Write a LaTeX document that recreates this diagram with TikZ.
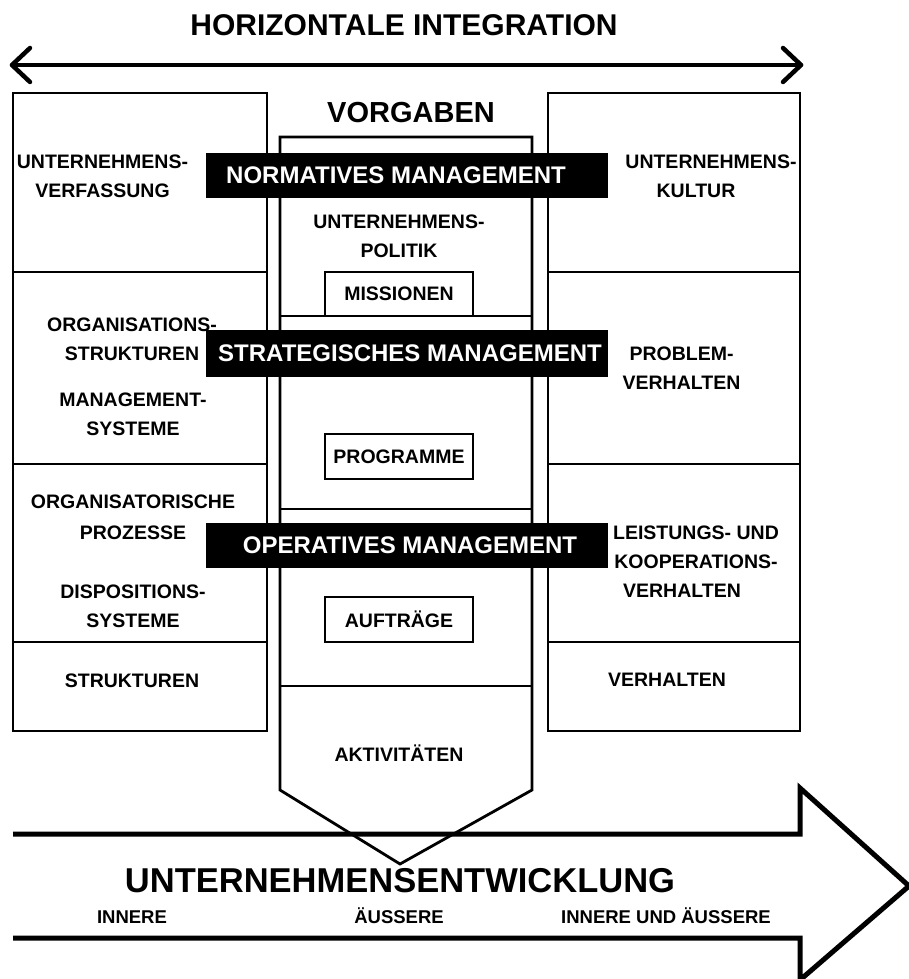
\documentclass[tikz,border=0pt]{standalone}
\usepackage{fontspec}
\setmainfont{Liberation Sans}
\usetikzlibrary{calc}
\begin{document}
\begin{tikzpicture}[x=1pt,y=-1pt,
  frame/.style={draw=black, line width=2.8pt, line join=miter},
  heavy/.style={draw=black, line width=5pt, line join=miter},
  lbl/.style={font=\fontsize{19.5}{29}\selectfont\bfseries, align=center, inner sep=0pt},
  small/.style={font=\fontsize{18.5}{22}\selectfont\bfseries, inner sep=0pt},
  headline/.style={font=\fontsize{30}{34}\selectfont\bfseries, inner sep=0pt},
  bigline/.style={font=\fontsize{34.5}{38}\selectfont\bfseries, inner sep=0pt},
  levelbar/.style={fill=black, draw=none, minimum width=402pt, minimum height=45pt, inner sep=0pt},
  bartext/.style={text=white, font=\fontsize{24}{28}\selectfont\bfseries, inner sep=0pt},
  tagbox/.style={frame, fill=white, minimum width=148pt, minimum height=44pt, inner sep=0pt,
                 font=\fontsize{19.5}{24}\selectfont\bfseries}]
\useasboundingbox (0,0) rectangle (909,979);

% title and horizontal double arrow
\node[headline] (title) at (404,25) {HORIZONTALE INTEGRATION};
\coordinate (hl) at (12,65);
\coordinate (hr) at (801,65);
\draw[line width=4.5pt, line cap=round, line join=round] (hl) -- (hr);
\draw[line width=4.5pt, line cap=round, line join=round]
  ($(hl)+(18,-17)$) -- (hl) -- ($(hl)+(18,17)$);
\draw[line width=4.5pt, line cap=round, line join=round]
  ($(hr)+(-18,-17)$) -- (hr) -- ($(hr)+(-18,17)$);

% left column: structures
\draw[frame] (13,93) rectangle (267,731);
\draw[frame] (13,272) -- (267,272);
\draw[frame] (13,464) -- (267,464);
\draw[frame] (13,642) -- (267,642);

% right column: behaviour
\draw[frame] (548,93) rectangle (800,731);
\draw[frame] (548,272) -- (800,272);
\draw[frame] (548,464) -- (800,464);
\draw[frame] (548,642) -- (800,642);

% centre column: pentagon pointing down
\node[headline, font=\fontsize{29}{32}\selectfont\bfseries] (vorgaben) at (411,113) {VORGABEN};
\draw[frame] (280,137) -- (532,137) -- (532,790) -- (400,864) -- (280,790) -- cycle;
\draw[frame] (280,316) -- (532,316);
\draw[frame] (280,509) -- (532,509);
\draw[frame] (280,686) -- (532,686);

% development arrow
\draw[heavy] (13,834) -- (800,834) -- (800,788) -- (909,886) -- (800,980) -- (800,938) -- (13,938);

% left column labels
\node[lbl] (verf) at (102.5,176.5) {UNTERNEHMENS-\\VERFASSUNG};
\node[lbl] (orgstr) at (132,339.5) {ORGANISATIONS-\\STRUKTUREN};
\node[lbl] (mgmtsys) at (133,414) {MANAGEMENT-\\SYSTEME};
\node[lbl, font=\fontsize{19.5}{31}\selectfont\bfseries] (orgproz) at (133,517.5) {ORGANISATORISCHE\\PROZESSE};
\node[lbl] (dispsys) at (133,606) {DISPOSITIONS-\\SYSTEME};
\node[lbl] (strukt) at (132,681) {STRUKTUREN};

% centre column labels
\node[lbl] (politik) at (399,236) {UNTERNEHMENS-\\POLITIK};
\node[tagbox] (missionen) at (399,294) {MISSIONEN};
\node[tagbox, minimum height=45pt] (programme) at (399,456.5) {PROGRAMME};
\node[tagbox, minimum height=45pt] (auftraege) at (399,619.5) {AUFTRÄGE};
\node[lbl, anchor=base] (aktiv) at (399,761) {AKTIVITÄTEN};

% right column labels
\node[lbl] (kultur1) at (711,162) {UNTERNEHMENS-};
\node[lbl] (kultur2) at (696,191) {KULTUR};
\node[lbl] (problem) at (681.5,368) {PROBLEM-\\VERHALTEN};
\node[lbl] (leist) at (696,547) {LEISTUNGS- UND\\KOOPERATIONS-};
\node[lbl] (leist3) at (682,591) {VERHALTEN};
\node[lbl] (verhalten) at (667,680) {VERHALTEN};

% management levels
\node[levelbar] (nbar) at (407,175.5) {};
\node[bartext] (ntext) at (396,175.5) {NORMATIVES MANAGEMENT};
\node[levelbar, minimum height=47pt] (sbar) at (407,353.5) {};
\node[bartext] (stext) at (410,353.5) {STRATEGISCHES MANAGEMENT};
\node[levelbar] (obar) at (407,545.5) {};
\node[bartext] (otext) at (410,545.5) {OPERATIVES MANAGEMENT};

% development labels
\node[bigline] (entw) at (400,881) {UNTERNEHMENSENTWICKLUNG};
\node[small, anchor=base] (innere) at (132,923.5) {INNERE};
\node[small, anchor=base] (aeussere) at (399,923.5) {ÄUSSERE};
\node[small, anchor=base] (beide) at (666,923.5) {INNERE UND ÄUSSERE};
\end{tikzpicture}
\end{document}
